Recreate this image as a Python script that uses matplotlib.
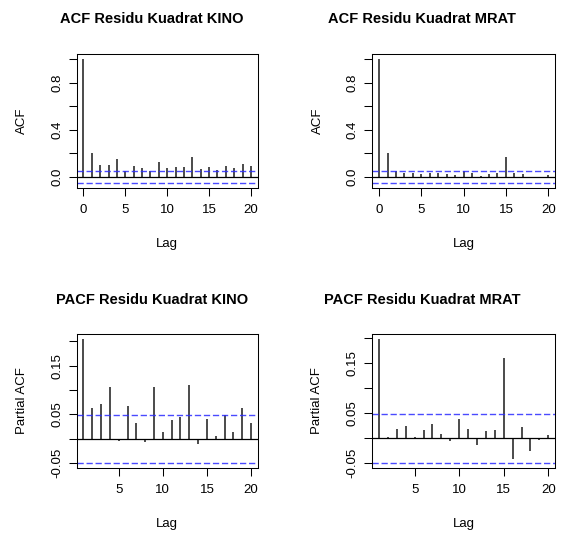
import numpy as np
import matplotlib.pyplot as plt

plt.rcParams['font.family'] = ['Liberation Sans', 'DejaVu Sans']

lag_acf = list(range(0, 21))
lag_pacf = list(range(1, 21))

acf_kino = [1.0, 0.207, 0.106, 0.106, 0.150, 0.049, 0.094, 0.080, 0.050, 0.130, 0.080,
            0.081, 0.089, 0.166, 0.064, 0.089, 0.063, 0.096, 0.076, 0.114, 0.097]
acf_mrat = [1.0, 0.200, 0.049, 0.034, 0.034, 0.025, 0.030, 0.037, 0.025, 0.014, 0.049,
            0.035, 0.005, 0.022, 0.035, 0.166, 0.035, 0.029, -0.010, -0.003, 0.014]
pacf_kino = [0.204, 0.064, 0.072, 0.107, -0.005, 0.067, 0.032, -0.007, 0.107, 0.013,
             0.038, 0.044, 0.111, -0.011, 0.040, 0.005, 0.048, 0.013, 0.064, 0.032]
pacf_mrat = [0.198, 0.003, 0.019, 0.025, 0.003, 0.017, 0.029, 0.009, -0.005, 0.039,
             0.019, -0.013, 0.015, 0.017, 0.160, -0.042, 0.023, -0.026, -0.004, 0.007]
conf_kino = 0.049
conf_mrat = 0.049

titles = ["ACF Residu Kuadrat KINO", "ACF Residu Kuadrat MRAT",
          "PACF Residu Kuadrat KINO", "PACF Residu Kuadrat MRAT"]

W, H = 573, 534
fig = plt.figure(figsize=(W / 100, H / 100), dpi=100)


def panel(left, top, right, bottom):
    return fig.add_axes([left / W, 1 - bottom / H, (right - left) / W, (bottom - top) / H])


def draw(ax, lags, vals, conf, ylab, yticks, ylabels, xticks):
    ax.vlines(lags, 0, vals, color='#1a1a1a', lw=1.1)
    ax.axhline(0, color='black', lw=0.9)
    for c in (conf, -conf):
        ax.axhline(c, color='#2a2aff', lw=1.0, ls=(0, (4.5, 2)), alpha=0.85)
    # R style limits: data range padded by 4%
    lo, hi = min(-conf, min(vals)), max(conf, max(vals))
    ax.set_ylim(lo - 0.04 * (hi - lo), hi + 0.04 * (hi - lo))
    x0, x1 = min(lags), max(lags)
    ax.set_xlim(x0 - 0.04 * (x1 - x0), x1 + 0.04 * (x1 - x0))
    ax.set_yticks(yticks)
    ax.set_yticklabels(ylabels, rotation=90, va='center')
    ax.set_xticks(xticks)
    ax.tick_params(axis='both', length=5.8, width=0.75, labelsize=9.5)
    ax.tick_params(axis='x', pad=5.6)
    ax.tick_params(axis='y', pad=4.0)
    for s in ax.spines.values():
        s.set_linewidth(0.75)
    ax.set_xlabel('Lag', fontsize=9.5, va='center')
    ax.xaxis.set_label_coords(0.5, -0.422)
    ax.set_ylabel(ylab, fontsize=9.5, va='center', ha='center')
    ax.yaxis.set_label_coords(-0.30, 0.5)


acf_ticks = [0, 0.2, 0.4, 0.6, 0.8, 1.0]
acf_labels = ['0.0', '', '0.4', '', '0.8', '']
pacf_ticks = [-0.05, 0, 0.05, 0.10, 0.15, 0.20]
pacf_labels = ['-0.05', '', '0.05', '', '0.15', '']

ax1 = panel(76.7, 54.3, 257.7, 187.7)
draw(ax1, lag_acf, acf_kino, conf_kino, 'ACF', acf_ticks, acf_labels, [0, 5, 10, 15, 20])
ax2 = panel(372.3, 54.3, 555, 187.7)
draw(ax2, lag_acf, acf_mrat, conf_mrat, 'ACF', acf_ticks, acf_labels, [0, 5, 10, 15, 20])
ax3 = panel(76.7, 334.3, 257.7, 467.7)
draw(ax3, lag_pacf, pacf_kino, conf_kino, 'Partial ACF', pacf_ticks, pacf_labels, [5, 10, 15, 20])
ax4 = panel(372.3, 334.3, 555, 467.7)
draw(ax4, lag_pacf, pacf_mrat, conf_mrat, 'Partial ACF', pacf_ticks, pacf_labels, [5, 10, 15, 20])

for (x, y), t in zip([(152, 23.3), (422, 23.3), (152, 303.7), (422, 303.7)], titles):
    fig.text(x / W, 1 - y / H, t, ha='center', va='baseline', fontsize=10.5, fontweight='bold')

fig.savefig('out.png', dpi=100)
